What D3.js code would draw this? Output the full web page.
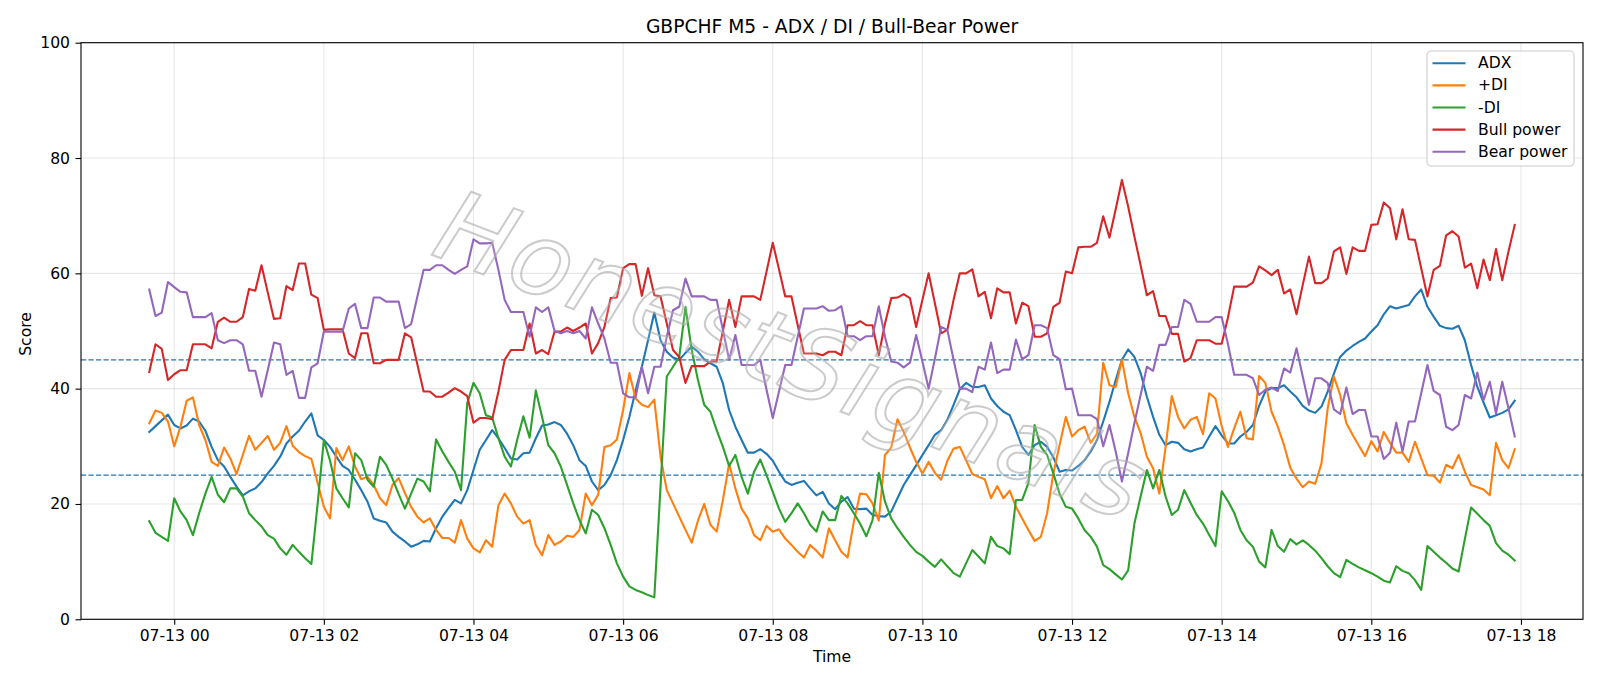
<!DOCTYPE html>
<html><head><meta charset="utf-8">
<script src="https://cdn.jsdelivr.net/npm/d3@7"></script>
<style>
body{margin:0;background:#fff;}
svg{display:block;font-family:"DejaVu Sans",sans-serif;}
</style></head><body>
<svg id="chart" width="1600" height="686"></svg>
<script>
// ---- data (5-minute bars) ----
const startTime = "2025-07-12T23:40:00Z";
const stepMinutes = 5;

const adx = [32.5,33.5,34.5,35.5,33.7,33.1,33.6,34.8,34.3,32.7,29.9,27.6,26.5,24.7,23,21.5,22.2,22.7,23.8,25.3,26.6,28.2,30.5,31.7,32.7,34.3,35.7,31.9,31.1,
29.9,28.2,26.6,25.9,24.2,22.4,20.4,17.5,17.1,16.8,15.2,14.3,13.5,12.6,13,13.6,13.5,15.8,17.8,19.3,20.7,20.1,22.4,25.9,29.4,31.1,32.8,31.4,29.7,
27.9,27.7,28.8,28.9,31.4,33.6,33.8,34.2,33.7,32.2,30.2,27.6,26.6,23.9,22.4,23.3,25,27.6,31.1,35.1,39.7,43.8,48.4,53.2,48.4,46.4,45.4,45,46.2,
47.3,46.4,45.1,44.4,43.8,40.9,36.3,33.4,31.1,28.9,28.9,29.5,28.7,27.5,25.6,23.9,23.3,23.7,24,22.7,21.5,22.1,20.1,19.1,20.4,21.2,19.2,19.1,19.2,
18.1,17.9,17.8,18.7,21,23.3,25,26.7,28.5,30.2,32,32.8,34.6,37.2,39.9,41,40.3,40.3,40.6,38.3,37,36,35.4,32.8,29.9,28.5,30.2,30.8,29.9,
28.1,25.6,25.9,25.8,26.6,27.6,29.1,31.1,34.3,37.7,41.5,45,46.8,45.5,42.7,38.6,35.1,32,30.2,30.8,30.6,29.5,29.1,29.5,29.8,31.7,33.5,31.9,30.5,
30.5,31.7,32.5,33.7,37,39.5,40.1,40.1,40.6,39.5,38.5,37,36.2,35.8,36.9,39.5,42.6,45.5,46.6,47.4,48.1,48.7,49.9,51,52.9,54.3,53.9,54.2,
54.5,56,57.2,54.2,52.5,50.9,50.5,50.4,50.9,48.4,44.1,40.3,37.6,35,35.4,35.8,36.4,37.9];

const plusDI = [34,36.2,35.8,34.3,30,33.4,37.9,38.5,33.7,31.1,27.3,26.6,29.8,27.9,25.2,28.5,31.8,29.4,30.6,31.8,29.4,30.6,33.5,30.1,29,28.3,27.8,23.7,19.5,
17.5,29.7,27.6,30,26.5,24.3,24.7,23.3,21,19.8,23.3,24.5,21.9,19.5,17.8,16.8,17.5,15.5,14.1,14.1,13.3,17.2,14,12.3,11.6,13.7,12.6,19.8,21.8,
20.1,17.8,16.6,17.2,12.9,11.1,14.6,12.9,13.5,14.5,14.3,15.5,21.8,19.8,21.6,29.9,30.2,31.2,36.3,42.7,38.3,37.2,36.8,38.1,28.2,22.4,20.1,17.8,15.5,
13.3,17.1,20,16.4,15.2,20.7,27,22.7,19.2,17.5,14.6,13.7,16.2,15.2,15.6,14,12.9,11.7,10.7,12.9,11.9,10.7,15.8,13.7,11.7,10.7,16.9,21.8,21.7,
20.1,17.1,28.5,29.8,34.7,32.5,29.8,27.3,25.3,27.3,25.4,24.2,27.5,29.6,29.9,27.6,25.2,24.7,24.3,21,23.1,21,22.3,19.5,17.5,15.5,13.6,14.3,18.4,
25.3,30.2,35.1,31.7,32.8,33.4,30.6,32.2,44.5,40.6,40.3,45,39.2,35.1,32.3,28.2,26.2,21.8,29.8,38.7,35.1,33.1,34.6,35.1,32.1,39.2,38.3,33.5,29.9,
33.1,36,31.4,31.2,42.2,41,36,33.4,30.2,26.3,24.4,22.9,23.9,23.5,27,36.6,42.1,38.9,34,32,30.1,28.3,30.9,29.1,32.5,30.6,28.9,28.9,
27.3,30.8,27.9,25,24.9,23.7,26.8,26.2,28.5,25.6,23.3,22.9,22.5,21.5,30.6,27.6,26.2,29.5];

const minusDI = [17,15,14.3,13.6,21,18.7,17.2,14.6,18.4,21.8,24.7,21.6,20.3,22.7,22.7,21.3,18.4,17.2,16.1,14.6,14,12.3,11.2,12.9,11.7,10.6,9.6,20,31.1,
27.5,22.7,21,19.4,28.8,27.6,24.2,23,28.2,26.8,24.4,21.7,19.2,21.8,24.4,23.9,22.2,31.2,29.1,27.3,25.6,22.4,37.5,41,39.2,35.4,35,31.4,28.2,
26.5,31.1,35.2,31.5,39.7,35.1,30.2,28.8,26.5,23.3,20.1,17.2,14.9,19,18.1,15.8,12.9,9.7,7.4,5.7,5.1,4.7,4.2,3.8,23,42.1,43.8,45.5,54.2,
46.7,41.5,37.2,36,32.8,29.9,26.6,28.5,24.7,21.8,25.6,27.7,25,22.1,19.2,16.9,18.4,20.1,18.4,16.4,15.2,18.7,17.2,17.2,21.4,20.1,18.4,16.6,14.4,
17.2,25.4,20.4,17.5,15.8,14.3,12.9,11.7,11,10,9.1,10.4,9.2,8,7.4,9.7,12,10.9,9.7,14.3,12.7,12.3,11.3,20.7,20.7,23.6,33.7,29.9,28.5,
25.3,21.8,19.5,19.2,17.5,15.5,14.3,12.6,9.4,8.7,7.8,6.9,8.5,16.6,21.3,25.9,22.7,25.9,21.3,18.1,19,22.4,20.2,18.1,16.6,14.6,12.7,22.2,20.5,
18.5,15.5,13.7,12.6,10,9,15.5,12.7,11.7,13.9,13,13.7,12.9,11.9,10.6,9.2,8,7.3,10.3,9.6,9,8.5,8,7.4,6.7,6.4,9.2,8.4,
8,6.8,5.1,12.7,11.7,10.7,9.8,8.8,8.3,13.9,19.4,18.3,17.2,16.2,13.2,11.9,11.2,10.2];

const bullPower = [42.9,47.7,46.9,41.5,42.5,43.2,43.2,47.7,47.7,47.7,47,51.6,52.3,51.6,51.6,52.4,57.3,57,61.4,56.7,52.1,52.2,57.8,57.1,61.7,61.7,56.3,55.7,50.2,
50.3,50.3,50.3,46.1,45.3,49.6,49.6,44.4,44.4,45,45,45,49.6,48.9,44.2,39.5,39.5,38.6,38.6,39.3,40.1,39.5,38.7,34.1,34.9,34.9,34.7,39.5,45,
46.7,46.7,46.7,51.3,46.1,46.7,46,49.9,49.9,50.6,50,50.6,51.3,46.1,47.9,50.7,55.7,55.8,60.9,61.6,61.6,56.1,60.9,56.2,56,51.3,46.7,45.5,41,
43.9,43.9,43.9,44.7,44.7,50,55.4,50.7,56,56,56,55.4,60.3,65.3,60.7,56,56,51,46.1,46.1,46.1,45.8,46.4,46.4,45.8,51,51,51.7,51,
51,45.8,51.3,55.7,55.8,56.4,55.7,50.7,55.4,60,54.8,49.6,50.2,55.4,60,60,60.7,56,56.8,52.2,57.4,56.7,56.7,51.3,54.9,54.3,49,49,49.6,
54.2,54.9,60.3,60,64.5,64.6,64.6,65.3,69.9,66.2,71.1,76.2,71.6,66.4,61.4,56.2,56.9,52.6,52.6,49.5,49.5,44.7,45.3,48.4,48.4,48.4,47.8,47.8,52.3,
57.7,57.7,57.7,58.4,61.2,60.5,59.7,60.6,56.5,57.2,52.9,58,62.9,58.3,58.3,59.1,63.8,64.5,59.9,64.5,63.9,63.9,68.4,68.5,72.3,71.3,65.9,71.1,
65.9,65.8,60.9,56,60.6,61.3,66.6,67.3,66.4,61,61.7,57.4,62.4,58.8,64.2,58.8,63.8,68.4];

const bearPower = [57.2,52.6,53.2,58.5,57.6,56.8,56.7,52.4,52.4,52.4,53.1,48.4,47.9,48.4,48.4,47.7,43.1,43.1,38.6,43.2,48,47.7,42.4,43.1,38.4,38.4,43.7,44.4,49.9,
49.9,49.9,49.9,53.9,54.7,50.5,50.5,55.8,55.8,55.1,55.1,55.1,50.5,51.2,56,60.6,60.6,61.4,61.4,60.6,59.9,60.6,61.2,65.9,65.2,65.2,65.3,60.6,55.4,
53.3,53.3,53.3,49,54.1,53.3,54.1,50,49.6,50,49.6,50,48.7,54.1,51.3,48.7,44.5,44.5,39.2,38.5,38.5,43.8,39.2,43.8,43.8,49,53.6,54.2,59.1,
56,56,56,55.4,55.4,50.2,45,49.3,44.1,44.1,44.1,45,39.8,34.9,39.5,44.1,44.1,49,53.9,53.9,53.9,54.3,53.5,53.6,54.3,49.1,49.1,48.4,49.1,
49.1,54.3,49,44.7,44.5,43.7,44.5,49.3,44.7,40,45.2,50.7,50.2,45,40,40,39.4,43.8,43.3,48,42.7,43.3,43.3,48.5,45.1,45.8,51,51,50.5,
45.8,45.1,39.9,40,35.4,35.4,35.4,34.7,30,33.7,29.1,23.9,28.8,34,38.9,43.8,43.1,47.6,47.6,50.7,50.7,55.4,54.7,51.6,51.6,51.6,52.4,52.4,47.8,
42.4,42.4,42.4,41.8,38.9,39.8,40.2,39.6,43.5,42.8,47,42.1,37.2,41.8,41.8,41,36.4,35.6,40.2,35.6,36.3,36.3,31.7,31.7,27.8,28.9,34.1,29.1,
34.3,34.3,39.2,44.1,39.6,38.9,33.4,32.8,33.7,38.9,38.3,42.8,38,41.2,35.7,41.2,36.6,31.7];

const seriesNames = ["ADX","+DI","-DI","Bull power","Bear power"];
const seriesColors = ["#1f77b4","#ff7f0e","#2ca02c","#d62728","#9467bd"];
const yTicks = [0,20,40,60,80,100];
const xTickTimes = ["2025-07-13T00:00:00Z","2025-07-13T02:00:00Z","2025-07-13T04:00:00Z","2025-07-13T06:00:00Z","2025-07-13T08:00:00Z",
  "2025-07-13T10:00:00Z","2025-07-13T12:00:00Z","2025-07-13T14:00:00Z","2025-07-13T16:00:00Z","2025-07-13T18:00:00Z"];
const thresholds = [25,45];
const titleText = "GBPCHF M5 - ADX / DI / Bull-Bear Power";
const watermarkText = "HonestSignals";

// ---- layout ----
const m = {left:81, right:1583, top:42.7, bottom:619.3};
const svg = d3.select("#chart");
const t0 = new Date(startTime).getTime();
const times = adx.map((_, i) => new Date(t0 + i * stepMinutes * 60000));
const tMin = +times[0], tMax = +times[times.length - 1], span = tMax - tMin;
const x = d3.scaleUtc().domain([new Date(tMin - 0.05 * span), new Date(tMax + 0.05 * span)]).range([m.left, m.right]);
const y = d3.scaleLinear().domain([0, 100]).range([m.bottom, m.top]);
const fmt = d3.utcFormat("%m-%d %H");
const xt = xTickTimes.map(s => new Date(s));

svg.append("rect").attr("width",1600).attr("height",686).attr("fill","#fff");

// grid
const grid = svg.append("g").attr("stroke","#b0b0b0").attr("stroke-opacity",0.3).attr("stroke-width",1.1);
grid.selectAll("line.v").data(xt).join("line").attr("class","v")
  .attr("x1",d=>x(d)).attr("x2",d=>x(d)).attr("y1",m.top).attr("y2",m.bottom);
grid.selectAll("line.h").data(yTicks).join("line").attr("class","h")
  .attr("x1",m.left).attr("x2",m.right).attr("y1",d=>y(d)).attr("y2",d=>y(d));

// threshold lines
svg.append("g").selectAll("line").data(thresholds).join("line")
  .attr("x1",m.left).attr("x2",m.right).attr("y1",d=>y(d)).attr("y2",d=>y(d))
  .attr("stroke","#1f77b4").attr("stroke-width",1.4).attr("stroke-dasharray","5.2,2.3");

// series
const seriesData = [adx, plusDI, minusDI, bullPower, bearPower];
const line = d3.line().x((d,i)=>x(times[i])).y(d=>y(d));
svg.append("clipPath").attr("id","clip").append("rect")
  .attr("x",m.left).attr("y",m.top).attr("width",m.right-m.left).attr("height",m.bottom-m.top);
svg.append("g").attr("clip-path","url(#clip)").selectAll("path").data(seriesData).join("path")
  .attr("d",d=>line(d)).attr("fill","none").attr("stroke",(d,i)=>seriesColors[i])
  .attr("stroke-width",2.1).attr("stroke-linejoin","round").attr("stroke-linecap","square");

// watermark (outlined, faint)
svg.append("text").attr("transform","translate(792,356) rotate(21)")
  .attr("text-anchor","middle").attr("dominant-baseline","central")
  .attr("font-size",100).attr("font-style","italic").attr("font-family","DejaVu Sans")
  .attr("letter-spacing",3)
  .attr("fill","#ffffff").attr("fill-opacity",0.15)
  .attr("stroke","#a8a8a8").attr("stroke-width",2).attr("stroke-opacity",0.6)
  .text(watermarkText);

// axes
const xAxis = d3.axisBottom(x).tickValues(xt).tickFormat(fmt).tickSize(5.5).tickPadding(5.5);
const yAxis = d3.axisLeft(y).tickValues(yTicks).tickSize(5.5).tickPadding(5.5);
const gx = svg.append("g").attr("transform",`translate(0,${m.bottom})`).call(xAxis);
const gy = svg.append("g").attr("transform",`translate(${m.left},0)`).call(yAxis);
[gx,gy].forEach(g=>{
  g.select(".domain").remove();
  g.selectAll(".tick line").attr("stroke","#000").attr("stroke-width",1.1);
  g.selectAll(".tick text").attr("fill","#000").attr("font-size",15.6).attr("font-family","DejaVu Sans");
});
// frame
svg.append("rect").attr("x",m.left).attr("y",m.top).attr("width",m.right-m.left).attr("height",m.bottom-m.top)
  .attr("fill","none").attr("stroke","#000").attr("stroke-width",1.1);

// labels
svg.append("text").attr("x",(m.left+m.right)/2).attr("y",26).attr("text-anchor","middle")
  .attr("dominant-baseline","central").attr("font-size",18.7).attr("fill","#000").text(titleText);
svg.append("text").attr("x",832).attr("y",657).attr("text-anchor","middle")
  .attr("dominant-baseline","central").attr("font-size",15.6).attr("fill","#000").text("Time");
svg.append("text").attr("transform","translate(26,334) rotate(-90)").attr("text-anchor","middle")
  .attr("dominant-baseline","central").attr("font-size",15.6).attr("fill","#000").text("Score");

// legend
const lg = svg.append("g");
lg.append("rect").attr("x",1427).attr("y",51).attr("width",147).attr("height",115).attr("rx",4)
  .attr("fill","#fff").attr("fill-opacity",0.8).attr("stroke","#cccccc").attr("stroke-width",1.1);
const rows = lg.selectAll("g.row").data(seriesNames).join("g").attr("class","row")
  .attr("transform",(d,i)=>`translate(0,${63.3 + i*22.1})`);
rows.append("line").attr("x1",1432.5).attr("x2",1465.5).attr("stroke",(d,i)=>seriesColors[i]).attr("stroke-width",2.1);
rows.append("text").attr("x",1478).attr("dominant-baseline","central").attr("font-size",15.6).attr("fill","#000").text(d=>d);
</script>
</body></html>
